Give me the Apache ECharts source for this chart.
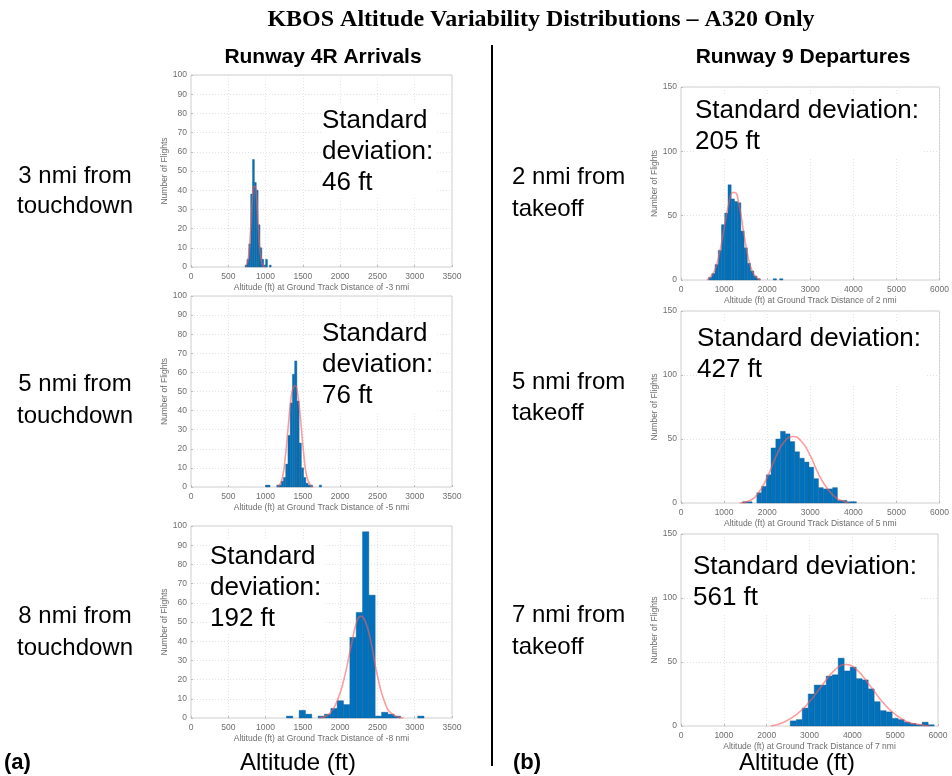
<!DOCTYPE html>
<html>
<head>
<meta charset="utf-8">
<title>KBOS Altitude Variability Distributions</title>
<script src="https://cdn.jsdelivr.net/npm/echarts@6/dist/echarts.min.js"></script>
<style>
  html, body { margin: 0; padding: 0; background: #fff; }
  #container { width: 952px; height: 776px; }
</style>
</head>
<body>
<div id="container"></div>
<script>
// ---- data ----
// histogram bins: left edge of each bin (ft), count per bin, bin width (ft)

// Runway 4R arrivals, -3 nmi
var binW1 = 25;
var edges1 = [725, 750, 775, 800, 825, 850, 875, 900, 925, 950, 975, 1000, 1050];
var counts1 = [1, 4, 12, 38, 56, 44, 40, 22, 10, 4, 1, 4, 1];
var fitX1 = [735, 770, 800, 825, 845, 860, 880, 905, 930, 960, 1000];
var fitY1 = [0, 5, 20, 36, 42, 42, 36, 20, 7, 1, 0];

// Runway 4R arrivals, -5 nmi
var binW2 = 30;
var edges2 = [1000, 1030, 1150, 1180, 1210, 1240, 1270, 1300, 1330, 1360, 1390, 1420, 1450, 1480, 1510, 1540, 1570, 1600, 1720];
var counts2 = [1, 1, 1, 1, 3, 5, 12, 27, 44, 59, 66, 45, 23, 10, 5, 2, 1, 1, 1];
var fitX2 = [1165, 1220, 1260, 1300, 1340, 1370, 1400, 1430, 1470, 1510, 1550, 1600, 1640];
var fitY2 = [0, 4, 14, 30, 46, 52, 53, 49, 35, 18, 6, 1, 0];

// Runway 4R arrivals, -8 nmi
var binW3 = 85;
var edges3 = [1280, 1450, 1535, 1705, 1790, 1875, 1960, 2045, 2130, 2215, 2300, 2385, 2470, 2555, 2640, 2725, 3040];
var counts3 = [1, 4, 2, 1, 2, 5, 9, 7, 42, 55, 97, 64, 1, 3, 2, 1, 1];
var fitX3 = [1720, 1850, 1950, 2050, 2150, 2230, 2280, 2330, 2400, 2500, 2600, 2700, 2850];
var fitY3 = [0, 2, 8, 20, 38, 51, 53, 51, 42, 22, 8, 2, 0];

// Runway 9 departures, 2 nmi
var binW4 = 75;
var edges4 = [640, 715, 790, 865, 940, 1015, 1090, 1165, 1240, 1315, 1390, 1465, 1540, 1615, 1690, 1765, 2140, 2290];
var counts4 = [2, 5, 12, 23, 43, 52, 74, 63, 61, 60, 38, 25, 13, 7, 3, 1, 1, 1];
var fitX4 = [600, 700, 800, 900, 1000, 1100, 1200, 1250, 1350, 1450, 1550, 1650, 1750, 1850];
var fitY4 = [0, 3, 9, 22, 40, 58, 68, 68, 58, 38, 19, 7, 2, 0];

// Runway 9 departures, 5 nmi
var binW5 = 110;
var edges5 = [1430, 1540, 1760, 1870, 1980, 2090, 2200, 2310, 2420, 2530, 2640, 2750, 2860, 2970, 3080, 3190, 3300, 3410, 3520, 3630, 3740, 3850, 3960];
var counts5 = [1, 1, 8, 13, 22, 43, 50, 56, 54, 48, 40, 35, 32, 28, 19, 12, 11, 11, 12, 2, 2, 1, 1];
var fitX5 = [1360, 1600, 1800, 2000, 2200, 2400, 2600, 2800, 3000, 3200, 3400, 3600, 3800, 3900];
var fitY5 = [0, 2, 8, 20, 36, 48, 52, 48, 37, 22, 11, 4, 1, 0];

// Runway 9 departures, 7 nmi
var binW6 = 140;
var edges6 = [2550, 2690, 2830, 2970, 3110, 3250, 3390, 3530, 3670, 3810, 3950, 4090, 4230, 4370, 4510, 4650, 4790, 4930, 5070, 5210, 5350, 5490, 5630, 5770];
var counts6 = [4, 5, 14, 25, 32, 32, 39, 40, 53, 43, 46, 37, 36, 29, 19, 12, 11, 6, 5, 3, 2, 1, 3, 1];
var fitX6 = [2100, 2400, 2700, 3000, 3300, 3600, 3850, 4100, 4400, 4700, 5000, 5300, 5600, 5800];
var fitY6 = [0, 3, 9, 19, 32, 44, 48, 44, 32, 19, 9, 3, 1, 0];

var distLabels = ['-3', '-5', '-8', '2', '5', '7'];
var sdLabels = ['46', '76', '192', '205', '427', '561'];

// ---- chart ----
var dom = document.getElementById('container');
var myChart = echarts.init(dom);

var panels = [
  { binW: binW1, edges: edges1, counts: counts1, fx: fitX1, fy: fitY1 },
  { binW: binW2, edges: edges2, counts: counts2, fx: fitX2, fy: fitY2 },
  { binW: binW3, edges: edges3, counts: counts3, fx: fitX3, fy: fitY3 },
  { binW: binW4, edges: edges4, counts: counts4, fx: fitX4, fy: fitY4 },
  { binW: binW5, edges: edges5, counts: counts5, fx: fitX5, fy: fitY5 },
  { binW: binW6, edges: edges6, counts: counts6, fx: fitX6, fy: fitY6 }
];

// plot boxes in px
var boxes = [
  { left: 191, top: 75, width: 261, height: 192 },
  { left: 191, top: 296, width: 261, height: 191 },
  { left: 191, top: 526, width: 261, height: 192 },
  { left: 681, top: 87, width: 261, height: 193 },
  { left: 681, top: 311, width: 261, height: 192 },
  { left: 681, top: 534, width: 257, height: 192 }
];

var axisGray = '#6e6e6e';
var gridLine = { show: true, lineStyle: { color: '#e3e3e3', type: [1, 2], width: 1 } };
var plain = function (v) { return String(v); };

function renderBin(params, api) {
  var p0 = api.coord([api.value(0), api.value(2)]);
  var p1 = api.coord([api.value(1), 0]);
  return {
    type: 'rect',
    shape: { x: p0[0], y: p0[1], width: p1[0] - p0[0], height: p1[1] - p0[1] },
    style: { fill: '#0072BD', stroke: '#1f5a86', lineWidth: 0.4 }
  };
}

var grids = [], xAxes = [], yAxes = [], series = [];
panels.forEach(function (p, i) {
  var left = i < 3;
  grids.push({
    left: boxes[i].left, top: boxes[i].top, width: boxes[i].width, height: boxes[i].height,
    show: true, borderColor: '#cfcfcf', borderWidth: 1, backgroundColor: '#fff'
  });
  xAxes.push({
    gridIndex: i, type: 'value', min: 0, max: left ? 3500 : 6000, interval: left ? 500 : 1000,
    name: 'Altitude (ft) at Ground Track Distance of ' + distLabels[i] + ' nmi',
    nameLocation: 'middle', nameGap: 16,
    nameTextStyle: { color: axisGray, fontSize: 8.5, fontFamily: 'Liberation Sans' },
    axisLine: { show: false },
    axisTick: { show: true, inside: true, length: 2, lineStyle: { color: '#bbb' } },
    axisLabel: { color: axisGray, fontSize: 8.5, fontFamily: 'Liberation Sans', margin: 5, formatter: plain },
    splitLine: gridLine
  });
  yAxes.push({
    gridIndex: i, type: 'value', min: 0, max: left ? 100 : 150, interval: left ? 10 : 50,
    name: 'Number of Flights', nameLocation: 'middle', nameGap: left ? 18 : 22, nameRotate: 90,
    nameTextStyle: { color: axisGray, fontSize: 8.5, fontFamily: 'Liberation Sans' },
    axisLine: { show: false },
    axisTick: { show: true, inside: true, length: 2, lineStyle: { color: '#bbb' } },
    axisLabel: { color: axisGray, fontSize: 8.5, fontFamily: 'Liberation Sans', margin: 4, formatter: plain },
    splitLine: gridLine
  });
  series.push({
    type: 'custom', xAxisIndex: i, yAxisIndex: i,
    renderItem: renderBin,
    encode: { x: [0, 1], y: 2 },
    data: p.edges.map(function (e, k) { return [e, e + p.binW, p.counts[k]]; }),
    z: 2
  });
  series.push({
    type: 'line', xAxisIndex: i, yAxisIndex: i,
    data: p.fx.map(function (x, k) { return [x, p.fy[k]]; }),
    smooth: 0.5, showSymbol: false, silent: true,
    lineStyle: { color: 'rgba(255, 90, 90, 0.6)', width: 1.6 },
    z: 3
  });
});

// text in the picture
var bigFont = 'Liberation Sans';
function txt(str, x, y, opt) {
  opt = opt || {};
  return {
    type: 'text', z: 100,
    style: {
      text: str, x: x, y: y,
      fontFamily: opt.family || bigFont, fontSize: opt.size || 26,
      fontWeight: opt.weight || 'normal',
      fill: '#000', textAlign: opt.align || 'left',
      textVerticalAlign: opt.valign || 'middle',
      lineHeight: opt.lh || 31,
      backgroundColor: opt.bg || null,
      padding: opt.pad || 0
    }
  };
}

var sdPos = [[322, 105], [322, 318], [210, 541], [695, 95], [697, 323], [693, 551]];
var graphics = [
  txt('KBOS Altitude Variability Distributions \u2013 A320 Only', 541, 20,
      { family: 'Liberation Serif', size: 24, weight: 'bold', align: 'center' }),
  txt('Runway 4R Arrivals', 323, 57, { size: 21, weight: 'bold', align: 'center' }),
  txt('Runway 9 Departures', 803, 57, { size: 21, weight: 'bold', align: 'center' }),
  { type: 'line', z: 100, shape: { x1: 492, y1: 45, x2: 492, y2: 766 }, style: { stroke: '#000', lineWidth: 2 } },
  txt('3 nmi from\ntouchdown', 75, 191, { size: 24, align: 'center', lh: 30 }),
  txt('5 nmi from\ntouchdown', 75, 400, { size: 24, align: 'center', lh: 32 }),
  txt('8 nmi from\ntouchdown', 75, 632, { size: 24, align: 'center', lh: 32 }),
  txt('2 nmi from\ntakeoff', 512, 193, { size: 24, lh: 32 }),
  txt('5 nmi from\ntakeoff', 512, 398, { size: 24, lh: 31 }),
  txt('7 nmi from\ntakeoff', 512, 631, { size: 24, lh: 32 }),
  txt('(a)', 4, 763, { size: 22, weight: 'bold' }),
  txt('(b)', 513, 763, { size: 22, weight: 'bold' }),
  txt('Altitude (ft)', 298, 763, { size: 24, align: 'center' }),
  txt('Altitude (ft)', 797, 763, { size: 24, align: 'center' })
];
sdLabels.forEach(function (s, i) {
  var str = i < 3 ? 'Standard\ndeviation:\n' + s + ' ft' : 'Standard deviation:\n' + s + ' ft';
  graphics.push(txt(str, sdPos[i][0], sdPos[i][1],
    { size: 26, valign: 'top', lh: 31, bg: '#fff', pad: [0, 4, 0, 0] }));
});

var option = {
  backgroundColor: '#fff',
  animation: false,
  grid: grids,
  xAxis: xAxes,
  yAxis: yAxes,
  series: series,
  graphic: graphics
};

if (option && typeof option === 'object') {
  myChart.setOption(option, true);
}
</script>
</body>
</html>
